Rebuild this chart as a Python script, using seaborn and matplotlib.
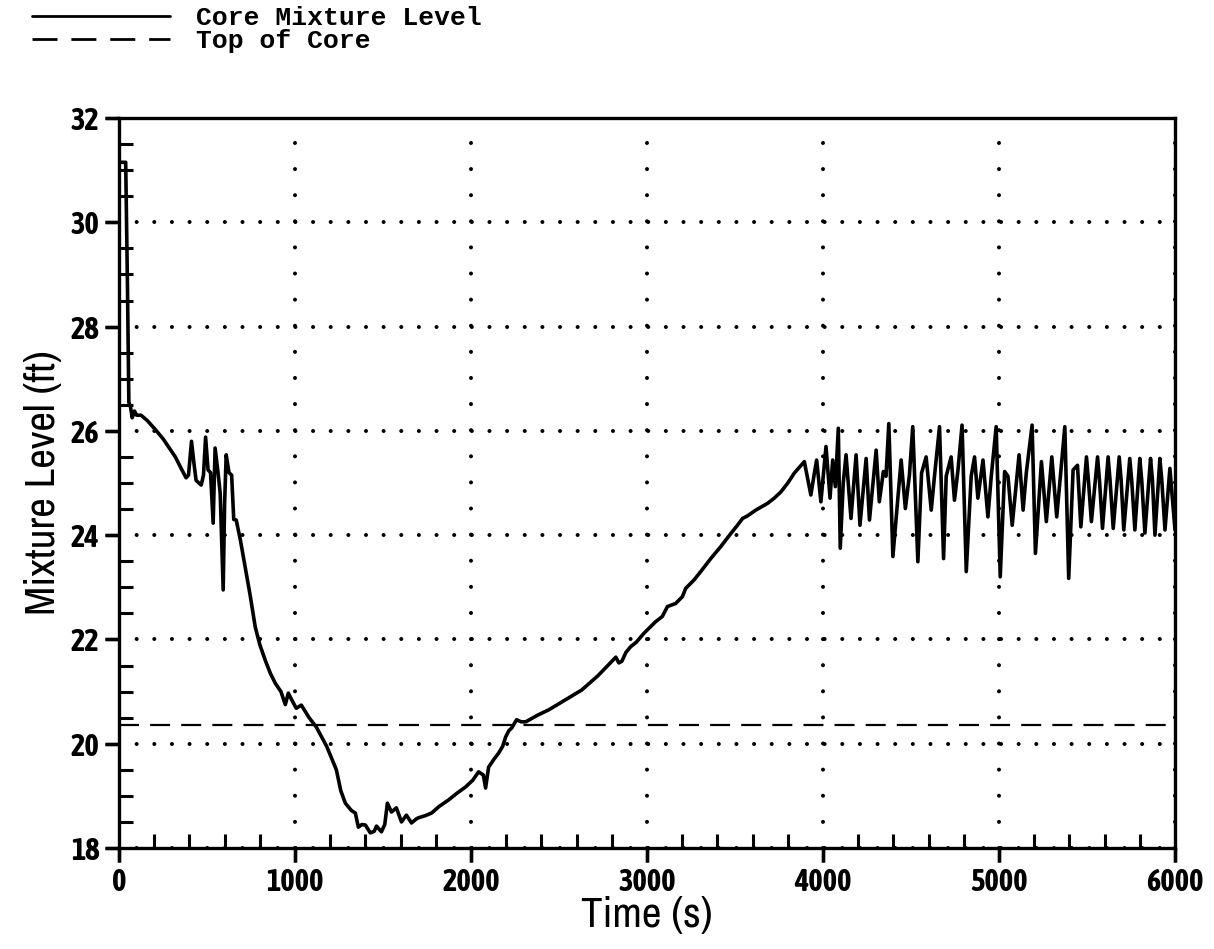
import matplotlib
matplotlib.use("Agg")
import matplotlib.pyplot as plt
import matplotlib.font_manager as fm
import seaborn as sns
import pandas as pd
from matplotlib.ticker import MultipleLocator, NullLocator

# ---------------- data ----------------
time_s = [0, 38, 48, 56, 66, 75, 88, 100, 125, 160, 200, 250, 290, 320, 350, 381, 395, 412,
          425, 438, 467, 480, 492, 506, 520, 535, 546, 563, 575, 592, 600, 609, 625, 640,
          652, 666, 690, 717, 745, 774, 800, 831, 860, 888, 920, 945, 962, 980, 1007,
          1036, 1080, 1121, 1180, 1235, 1260, 1286, 1320, 1343, 1360, 1380, 1400, 1428,
          1450, 1463, 1491, 1510, 1525, 1548, 1576, 1605, 1633, 1662, 1690, 1702, 1740,
          1776, 1820, 1872, 1920, 1969, 2010, 2043, 2070, 2083, 2100, 2130, 2157, 2180,
          2197, 2215, 2231, 2259, 2285, 2311, 2380, 2442, 2540, 2629, 2720, 2823, 2840,
          2857, 2880, 2907, 2940, 2983, 3049, 3087, 3116, 3163, 3201, 3220, 3267, 3305,
          3362, 3419, 3476, 3514, 3543, 3571, 3618, 3685, 3723, 3761, 3800, 3837, 3894,
          3931, 3951, 3964, 3988, 4017, 4040, 4055, 4070, 4087, 4098, 4115, 4131, 4159,
          4188, 4210, 4245, 4264, 4302, 4320, 4343, 4358, 4374, 4397, 4444, 4468, 4491,
          4510, 4539, 4560, 4586, 4615, 4634, 4662, 4685, 4700, 4728, 4747, 4767, 4790,
          4814, 4842, 4861, 4880, 4909, 4937, 4956, 4984, 5007, 5032, 5051, 5075, 5114,
          5137, 5155, 5188, 5207, 5241, 5269, 5300, 5328, 5351, 5374, 5396, 5421, 5446,
          5465, 5497, 5508, 5525, 5560, 5571, 5588, 5620, 5631, 5649, 5683, 5694, 5709,
          5743, 5754, 5772, 5800, 5811, 5829, 5861, 5872, 5886, 5914, 5925, 5943, 5971,
          6000]
level_ft = [31.15, 31.15, 28.8, 26.55, 26.45, 26.25, 26.38, 26.30, 26.30, 26.20, 26.05, 25.85,
            25.65, 25.50, 25.30, 25.10, 25.15, 25.80, 25.40, 25.05, 24.96, 25.15, 25.88,
            25.25, 25.20, 24.23, 25.67, 25.19, 24.80, 22.95, 24.60, 25.54, 25.20, 25.15,
            24.30, 24.29, 23.90, 23.39, 22.85, 22.24, 21.90, 21.60, 21.35, 21.16, 21.00,
            20.75, 20.97, 20.85, 20.68, 20.74, 20.50, 20.32, 19.95, 19.50, 19.10, 18.86,
            18.72, 18.67, 18.40, 18.45, 18.44, 18.29, 18.32, 18.42, 18.31, 18.45, 18.86,
            18.69, 18.77, 18.50, 18.63, 18.48, 18.56, 18.58, 18.62, 18.67, 18.80, 18.92,
            19.05, 19.17, 19.30, 19.46, 19.40, 19.15, 19.55, 19.70, 19.82, 19.95, 20.13,
            20.25, 20.30, 20.46, 20.42, 20.42, 20.55, 20.65, 20.85, 21.03, 21.30, 21.66,
            21.55, 21.58, 21.75, 21.86, 21.95, 22.12, 22.34, 22.44, 22.63, 22.69, 22.82,
            22.98, 23.14, 23.30, 23.55, 23.78, 24.03, 24.19, 24.32, 24.37, 24.48, 24.61,
            24.71, 24.83, 25.00, 25.19, 25.41, 24.77, 25.19, 25.44, 24.64, 25.70, 24.71,
            25.44, 24.93, 26.05, 23.75, 25.00, 25.54, 24.32, 25.54, 24.19, 25.47, 24.29,
            25.63, 24.64, 25.22, 25.13, 26.14, 23.59, 25.44, 24.51, 25.15, 26.08, 23.49,
            25.19, 25.50, 24.48, 25.15, 26.08, 23.55, 25.13, 25.50, 24.67, 25.25, 26.11,
            23.30, 25.13, 25.50, 24.71, 25.44, 24.35, 25.13, 26.08, 23.20, 25.22, 25.13,
            24.19, 25.54, 24.48, 25.19, 26.11, 23.65, 25.41, 24.26, 25.50, 24.35, 25.22,
            26.08, 23.17, 25.25, 25.34, 24.16, 25.50, 25.05, 24.26, 25.50, 25.05, 24.13,
            25.50, 25.05, 24.13, 25.50, 25.05, 24.10, 25.47, 25.05, 24.10, 25.47, 25.05,
            24.04, 25.47, 25.05, 24.00, 25.47, 25.05, 24.10, 25.28, 24.10]
top_of_core_ft = 20.35

series_labels = ["Core Mixture Level", "Top of Core"]
x_label = "Time (s)"
y_label = "Mixture Level (ft)"
x_limits = (0, 6000)
y_limits = (18, 32)
x_major_step, x_minor_step = 1000, 200
y_major_step, y_minor_step = 2, 0.5

df = pd.DataFrame({"time": time_s, "level": level_ft})

# ---------------- style ----------------
sns.set_theme(style="ticks")
fonts = fm.fontManager.ttflist
narrow = [f.name for f in fonts if ("Narrow" in f.name or "Condensed" in f.name)]
narrow_bold = [f.name for f in fonts if ("Narrow" in f.name or "Condensed" in f.name)
               and f.weight in (600, 700, "bold", "semibold", "demibold")]
label_family = (narrow[:1] if narrow else []) + ["Liberation Sans", "DejaVu Sans"]
tick_family = (narrow_bold[:1] if narrow_bold else narrow[:1]) + ["Liberation Sans", "DejaVu Sans"]
plt.rcParams["font.family"] = label_family
plt.rcParams["font.stretch"] = "condensed"
for k in ["text.color", "axes.labelcolor", "xtick.color", "ytick.color", "axes.edgecolor",
          "xtick.labelcolor", "ytick.labelcolor"]:
    plt.rcParams[k] = "black"
plt.rcParams.update({
    "xtick.direction": "out", "ytick.direction": "out",
    "xtick.bottom": True, "ytick.left": True, "xtick.top": False, "ytick.right": False,
    "xtick.major.size": 10, "ytick.major.size": 10,
    "xtick.minor.size": 10, "ytick.minor.size": 10,
    "xtick.major.width": 2.4, "ytick.major.width": 2.4,
    "xtick.minor.width": 2.2, "ytick.minor.width": 2.2,
    "xtick.major.pad": 4, "ytick.major.pad": 4,
    "xtick.labelsize": 22, "ytick.labelsize": 22,
    "axes.linewidth": 2.4,
})

DPI = 100
fig = plt.figure(figsize=(12.14, 9.49), dpi=DPI)
L, R, B, T = 119 / 1214, 1175 / 1214, 1 - 848 / 949, 1 - 118 / 949
ax = fig.add_axes([L, B, R - L, T - B])
ax.set_facecolor("white")

sns.lineplot(data=df, x="time", y="level", ax=ax, color="black", linewidth=2.6,
             estimator=None, sort=False, label=series_labels[0], legend=False)
ax.axhline(top_of_core_ft, color="black", linewidth=1.6, linestyle=(0, (9, 5)),
           label=series_labels[1])

ax.set_xlim(*x_limits)
ax.set_ylim(*y_limits)
ax.xaxis.set_major_locator(MultipleLocator(x_major_step))
ax.xaxis.set_minor_locator(MultipleLocator(x_minor_step))
ax.yaxis.set_major_locator(MultipleLocator(y_major_step))
ax.yaxis.set_minor_locator(MultipleLocator(y_minor_step))

for s in ax.spines.values():
    s.set_visible(True)
    s.set_linewidth(2.4)
    s.set_color("black")

ax.tick_params(which="minor", direction="in")
plt.setp(ax.get_xticklabels() + ax.get_yticklabels(), family=tick_family, fontweight="bold")

ax_w_px = (R - L) * 1214
ax_h_px = (T - B) * 949
glw = 2.9
def gap(px):
    return px * 72 / DPI / glw
ax.xaxis.grid(True, which="major", color="black", linewidth=glw,
              linestyle=(0, (0.01, gap(ax_h_px / 28))), dash_capstyle="round")
ax.yaxis.grid(True, which="major", color="black", linewidth=glw,
              linestyle=(0, (0.01, gap(ax_w_px / 60))), dash_capstyle="round")

ax.set_xlabel(x_label, fontsize=31, labelpad=-2)
ax.set_ylabel(y_label, fontsize=31, labelpad=6)

# overlay axes that draws the outward major tick marks
ax_t = fig.add_axes([L, B, R - L, T - B], frameon=False)
ax_t.patch.set_visible(False)
ax_t.set_xlim(*x_limits)
ax_t.set_ylim(*y_limits)
ax_t.grid(False)
ax_t.xaxis.set_major_locator(NullLocator())
ax_t.yaxis.set_major_locator(NullLocator())
ax_t.xaxis.set_minor_locator(MultipleLocator(x_major_step))
ax_t.yaxis.set_minor_locator(MultipleLocator(y_major_step))
ax_t.tick_params(which="minor", direction="out", length=10, width=2.4, color="black",
                 bottom=True, left=True, top=False, right=False,
                 labelbottom=False, labelleft=False)

leg = fig.legend(handles=ax.get_lines()[:1] + ax.get_lines()[-1:], labels=series_labels,
                 loc="upper left", bbox_to_anchor=(14 / 1214, 1 + 12 / 949), frameon=False,
                 prop={"family": ["Liberation Mono", "DejaVu Sans Mono"], "weight": "bold",
                       "size": 19},
                 handlelength=5.2, handletextpad=1.0, labelspacing=-0.05, borderpad=0.2)
for h in leg.get_lines():
    h.set_linewidth(2.0)

fig.savefig("out.png", dpi=DPI, facecolor="white")
